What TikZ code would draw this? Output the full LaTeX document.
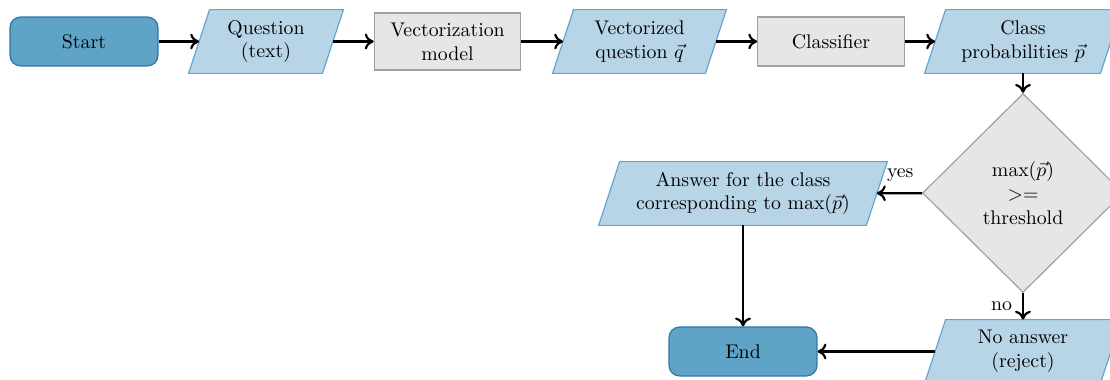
\documentclass[tikz,border=0pt]{standalone}
\usetikzlibrary{shapes.geometric,arrows.meta,backgrounds}
\definecolor{termfill}{HTML}{5FA3C6}
\definecolor{termdraw}{HTML}{2A78A6}
\definecolor{iofill}{HTML}{B8D4E7}
\definecolor{iodraw}{HTML}{62A6CE}
\definecolor{procfill}{HTML}{E6E6E6}
\definecolor{procdraw}{HTML}{A0A0A0}
\tikzset{
  x=0.505pt, y=-0.505pt,
  term/.style={draw=termdraw, fill=termfill, rounded corners=5.3pt, line width=0.6pt,
    minimum width=74.7pt, minimum height=24.7pt, inner sep=0pt, align=center},
  proc/.style={draw=procdraw, fill=procfill, line width=0.6pt,
    minimum width=74pt, inner sep=0pt, align=center},
  io/.style={minimum width=#1, minimum height=31.8pt, inner sep=0pt, align=center},
  iobox/.style={draw=iodraw, fill=iofill, line width=0.6pt},
  decide/.style={diamond, draw=procdraw, fill=procfill, line width=0.6pt,
    minimum width=101.5pt, minimum height=100.5pt, inner sep=0pt, align=center},
  flow/.style={-{To[length=4.5pt,width=8pt]}, line width=1.1pt},
}
\begin{document}
\begin{tikzpicture}
\clip (0,0) rectangle (1110,380);
% main row
\node[term] (start) at (84,41.5) {Start};
\node[io=67.2pt] (q) at (266,41.5) {Question\\(text)};
\node[proc, minimum height=28.8pt] (vm) at (447.5,41.5) {Vectorization\\model};
\node[io=76.8pt] (vq) at (639.5,41.5) {Vectorized\\question $\vec{q}$};
\node[proc, minimum height=24.7pt] (cls) at (831,41.5) {Classifier};
\node[io=88.4pt] (cp) at (1023,41.5) {Class\\probabilities $\vec{p}$};
% decision and outcomes
\node[decide] (dec) at (1023,193) {$\max(\vec{p})$\\$>=$\\threshold};
\node[io=134.8pt] (ans) at (743,193.5) {Answer for the class\\corresponding to $\max(\vec{p})$};
\node[term] (end) at (743,351.5) {End};
\node[io=88.4pt] (na) at (1023,351.5) {No answer\\(reject)};
% parallelogram outlines behind the input/output nodes
\begin{pgfonlayer}{background}
\foreach \n in {q,vq,cp,ans,na}
  \draw[iobox] ([xshift=5.3pt]\n.north west) -- ([xshift=5.3pt]\n.north east)
    -- ([xshift=-5.3pt]\n.south east) -- ([xshift=-5.3pt]\n.south west) -- cycle;
\end{pgfonlayer}
% connectors
\draw[flow] (start) -- (q);
\draw[flow] (q) -- (vm);
\draw[flow] (vm) -- (vq);
\draw[flow] (vq) -- (cls);
\draw[flow] (cls) -- (cp);
\draw[flow] (cp) -- (dec);
\draw[flow] (dec) -- node[pos=0.8, anchor=south west, inner sep=0pt, yshift=5.5pt] {yes} (ans);
\draw[flow] (dec) -- node[pos=0.5, left, inner sep=5pt] {no} (na);
\draw[flow] (ans) -- (end);
\draw[flow] (na) -- (end);
\end{tikzpicture}
\end{document}
